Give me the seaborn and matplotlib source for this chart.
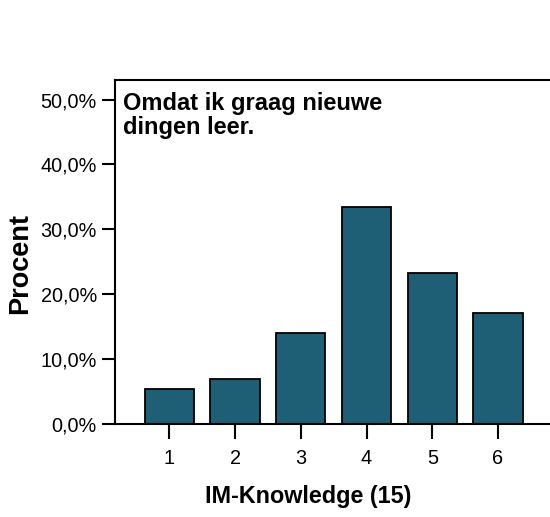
import pandas as pd
import seaborn as sns
import matplotlib.pyplot as plt

# values (percent)
categories = ["1", "2", "3", "4", "5", "6"]
procent = [5.4, 7.0, 14.0, 33.5, 23.3, 17.1]
yticks = [0, 10, 20, 30, 40, 50]
ytick_labels = ["0,0%", "10,0%", "20,0%", "30,0%", "40,0%", "50,0%"]

df = pd.DataFrame({"IM-Knowledge (15)": categories, "Procent": procent})

sns.set_style("ticks")
plt.rcParams["font.family"] = ["Liberation Sans", "DejaVu Sans"]
plt.rcParams["text.color"] = "black"
plt.rcParams["axes.labelcolor"] = "black"
plt.rcParams["xtick.color"] = "black"
plt.rcParams["ytick.color"] = "black"

fig = plt.figure(figsize=(5.5, 5.17), dpi=100)
ax = fig.add_axes([0.209, 0.18, 0.791, 0.665])

sns.barplot(data=df, x="IM-Knowledge (15)", y="Procent", color="#1e5f76",
            saturation=1, width=0.75, edgecolor="black", linewidth=1.3, ax=ax)

ax.set_xlim(-0.826, 5.79)
ax.set_ylim(0, 53.0)
ax.set_yticks(yticks)
ax.set_yticklabels(ytick_labels)

ax.tick_params(axis="y", length=9.5, width=1.5, pad=3.5, labelsize=14.3)
ax.tick_params(axis="x", length=11, width=1.5, pad=7, labelsize=14.3)

ax.set_xlabel("IM-Knowledge (15)", fontsize=16.8, fontweight="bold", labelpad=12)
ax.set_ylabel("Procent", fontsize=19.5, fontweight="bold", labelpad=5)
ax.xaxis.label.set_x(0.444)
ax.yaxis.label.set_y(0.468)

for side in ["left", "bottom", "top"]:
    ax.spines[side].set_linewidth(1.5)
    ax.spines[side].set_color("black")
ax.spines["right"].set_visible(False)

ax.text(0.018, 0.965, "Omdat ik graag nieuwe\ndingen leer.", transform=ax.transAxes,
        ha="left", va="top", fontsize=17, fontweight="bold", linespacing=1.05)

fig.savefig("out.png", dpi=100)
